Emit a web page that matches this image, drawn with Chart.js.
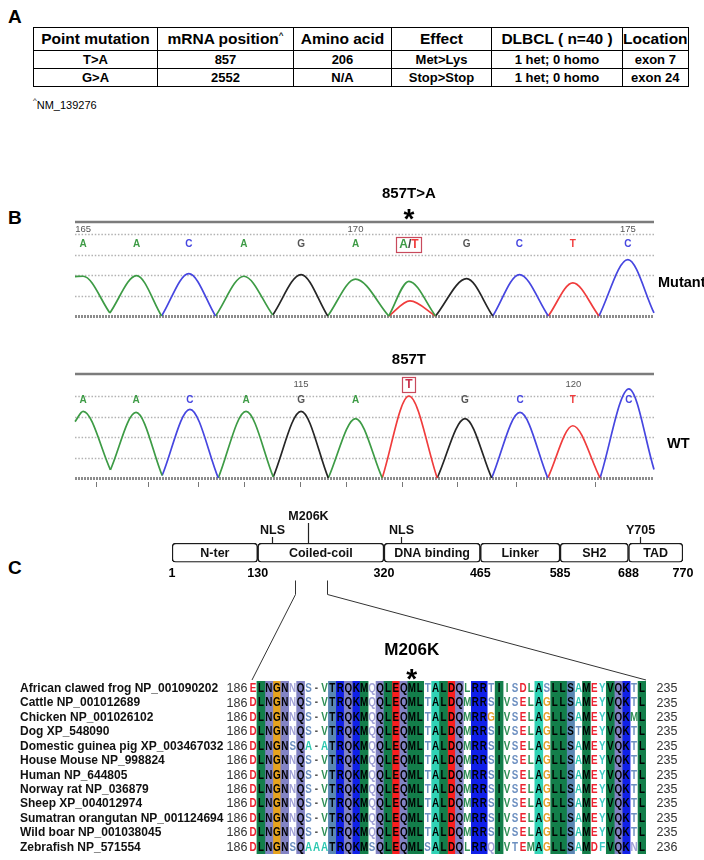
<!DOCTYPE html>
<html>
<head>
<meta charset="utf-8">
<script src="https://cdn.jsdelivr.net/npm/chart.js@4.4.1/dist/chart.umd.min.js"></script>
<style>
  body { margin: 0; background: #fff; font-family: "Liberation Sans", Arial, sans-serif; }
  #page { position: relative; width: 704px; height: 860px; overflow: hidden; }
  .panel { position: absolute; left: 8px; font-weight: bold; font-size: 19px; }
  #muts { position: absolute; left: 33px; top: 27px; border-collapse: collapse; table-layout: fixed; font-weight: bold; }
  #muts td { border: 1.5px solid #000; text-align: center; padding: 0; white-space: nowrap; font-size: 13px; height: 17px; }
  #muts tr.head td { font-size: 15.5px; height: 22px; }
  #muts sup, #note sup { font-size: 8px; vertical-align: 6px; }
  #note { position: absolute; left: 33px; top: 96px; font-size: 11px; }
  canvas { position: absolute; left: 0; }
</style>
</head>
<body>
<div id="page">
  <div class="panel" style="top:6px">A</div>
  <table id="muts"></table>
  <div id="note"><sup>^</sup>NM_139276</div>
  <div class="panel" style="top:207px">B</div>
  <canvas id="mutTrace" width="704" height="150" style="top:170px"></canvas>
  <canvas id="wtTrace" width="704" height="155" style="top:340px"></canvas>
  <div class="panel" style="top:557px">C</div>
  <canvas id="domains" width="704" height="95" style="top:495px"></canvas>
  <canvas id="align" width="704" height="285" style="top:575px"></canvas>
</div>
<script>
// === Panel A: mutation table ===
const HEADERS = ['Point mutation', 'mRNA position^', 'Amino acid', 'Effect', 'DLBCL ( n=40 )', 'Location'];
const COL_WIDTHS = [123, 135, 97, 99, 130, 64];
const POINT_MUTATION = ['T>A', 'G>A'];
const MRNA_POSITION = ['857', '2552'];
const AMINO_ACID = ['206', 'N/A'];
const EFFECT = ['Met>Lys', 'Stop>Stop'];
const DLBCL = ['1 het; 0 homo', '1 het; 0 homo'];
const LOCATION = ['exon 7', 'exon 24'];

// === Panel B: chromatogram peaks (x = base position, y = signal in grid units) ===
const MUT_CALLS = ['A', 'A', 'C', 'A', 'G', 'A', 'A/T', 'G', 'C', 'T', 'C'];
const MUT_PEAK_X = [165.0, 165.98, 166.94, 167.95, 169.0, 170.0, 170.98, 172.04, 173.01, 173.99, 175.0];
const MUT_PEAK_Y = [1.94, 1.97, 2.07, 1.94, 2.02, 1.80, 1.69, 1.82, 2.02, 1.62, 2.75];
const MUT_TROUGH_X = [164.85, 165.49, 166.44, 167.43, 168.48, 169.49, 170.61, 171.47, 172.52, 173.54, 174.47, 175.48];
const MUT_TROUGH_Y = [1.92, 0.15, 0, 0, 0.05, 0, 0, 0, 0, 0, 0, 0.15];
const MUT_MINOR_BASE = ['T'];
const MUT_MINOR_X = [[170.61, 171.0, 171.47]];
const MUT_MINOR_Y = [[0, 0.74, 0]];
const MUT_MARKS = [165, 170, 175];

const WT_CALLS = ['A', 'A', 'C', 'A', 'G', 'A', 'T', 'G', 'C', 'T', 'C'];
const WT_PEAK_X = [111.0, 111.97, 112.96, 113.99, 115.0, 116.0, 116.98, 118.01, 119.02, 119.99, 121.02];
const WT_PEAK_Y = [3.25, 3.2, 3.35, 3.25, 3.25, 2.9, 4.0, 2.9, 3.2, 2.55, 4.35];
const WT_TROUGH_X = [110.85, 111.5, 112.45, 113.48, 114.49, 115.5, 116.49, 117.5, 118.5, 119.53, 120.49, 121.48];
const WT_TROUGH_Y = [2.75, 0.40, 0.12, 0, 0.05, 0, 0, 0, 0, 0, 0, 0.42];
const WT_MARKS = [115, 120];
const WT_TICKS = [111.24, 112.19, 113.11, 113.95, 114.98, 115.83, 116.85, 117.86, 118.94, 120.39];

// === Panel C: STAT3 domains and alignment ===
const DOMAIN_NAMES = ['N-ter', 'Coiled-coil', 'DNA binding', 'Linker', 'SH2', 'TAD'];
const DOMAIN_BOUNDS = [1, 130, 320, 465, 585, 688, 770];
const SITE_NAMES = ['NLS', 'M206K', 'NLS', 'Y705'];
const SITE_POS = [152, 206, 346, 705];
const MUT_SITE = 'M206K';

const SPECIES = [
  'African clawed frog NP_001090202', 'Cattle NP_001012689', 'Chicken NP_001026102', 'Dog XP_548090',
  'Domestic guinea pig XP_003467032', 'House Mouse NP_998824', 'Human NP_644805', 'Norway rat NP_036879',
  'Sheep XP_004012974', 'Sumatran orangutan NP_001124694', 'Wild boar NP_001038045', 'Zebrafish NP_571554'
];
const SEQ_START = [186, 186, 186, 186, 186, 186, 186, 186, 186, 186, 186, 186];
const SEQ_END = [235, 235, 235, 235, 235, 235, 235, 235, 235, 235, 235, 236];
const SEQUENCES = [
  'ELNGNNQS-VTRQKMQQLEQMLTALDQLRRTIISDLASLLSAMEYVQKTL',
  'DLNGNNQS-VTRQKMQQLEQMLTALDQMRRSIVSELAGLLSAMEYVQKTL',
  'DLNGNNQS-VTRQKMQQLEQMLTALDQMRRGIVSELAGLLSAMEYVQKML',
  'DLNGNNQS-VTRQKMQQLEQMLTALDQMRRSIVSELAGLLSTMEYVQKTL',
  'DLNGNSQA-ATRQKMQQLEQMLTALDQMRRSIVSELAGLLSAMEYVQKTL',
  'DLNGNNQS-VTRQKMQQLEQMLTALDQMRRSIVSELAGLLSAMEYVQKTL',
  'DLNGNNQS-VTRQKMQQLEQMLTALDQMRRSIVSELAGLLSAMEYVQKTL',
  'DLNGNNQS-VTRQKMQQLEQMLTALDQMRRSIVSELAGLLSAMEYVQKTL',
  'DLNGNNQS-VTRQKMQQLEQMLTALDQMRRSIVSELAGLLSAMEYVQKTL',
  'DLNGNNQS-VTRQKMQQLEQMLTALDQMRRSIVSELAGLLSAMEYVQKTL',
  'DLNGNNQS-VTRQKMQQLEQMLTALDQMRRSIVSELAGLLSAMEYVQKTL',
  'DLNGNSQAAATRQKMSQLEQMLSALDQLRRQIVTEMAGLLSAMDFVQKNL'
];
const MARK_COLUMN = 20;

// styles
const FONT = '"Liberation Sans", Arial, sans-serif';
const TRACE_COLORS = { A: '#3d9b45', C: '#4646e0', G: '#262626', T: '#f03c3c' };
const CALL_COLORS = { A: '#3d9b45', C: '#4646e0', G: '#555555', T: '#f03c3c' };
const RESIDUE_CLASS = { L: 'hyd', I: 'hyd', V: 'hyd', M: 'hyd', N: 'amide', Q: 'amide', G: 'gly', R: 'basic', K: 'basic',
  S: 'hydroxyl', T: 'hydroxyl', D: 'acidic', E: 'acidic', A: 'small', Y: 'arom', F: 'arom' };
const CLASS_BG = { hyd: '#137e4a', amide: '#8283c4', gly: '#e7a31e', basic: '#1020e8', hydroxyl: '#5a87b3', acidic: '#fa1e1e', small: '#30d2b5' };
const CLASS_FG = { hyd: '#2f8f55', amide: '#a0a0d6', gly: '#e5a02a', basic: '#2030e0', hydroxyl: '#6c8fc0', acidic: '#ec2230', small: '#2cc8b0', arom: '#3ccac4' };
const DOMAIN_TOP = 495, ALIGN_TOP = 575;

Chart.defaults.font.family = FONT;
Chart.defaults.animation = false;

// --- table ---
const rows = [HEADERS].concat(POINT_MUTATION.map((p, i) =>
  [p, MRNA_POSITION[i], AMINO_ACID[i], EFFECT[i], DLBCL[i], LOCATION[i]]));
document.getElementById('muts').innerHTML = rows.map((r, i) =>
  '<tr' + (i === 0 ? ' class="head"' : '') + '>' + r.map((c, j) =>
    '<td style="width:' + COL_WIDTHS[j] + 'px">' +
    c.replace(/&/g, '&amp;').replace(/</g, '&lt;').replace(/>/g, '&gt;').replace('^', '<sup>^</sup>') + '</td>').join('') + '</tr>'
).join('');

// --- chromatograms ---
const traceDecor = {
  id: 'traceDecor',
  beforeDatasetsDraw(chart, args, o) {
    const { ctx, chartArea: ca, scales: { y } } = chart;
    ctx.save();
    for (let v = 0; v <= 4; v++) {
      const py = Math.round(y.getPixelForValue(v)) + 0.5;
      ctx.beginPath();
      ctx.setLineDash(v === 0 ? [2, 1] : [1.5, 1.8]);
      ctx.lineWidth = v === 0 ? 3 : 1.6;
      ctx.strokeStyle = v === 0 ? '#8c8c8c' : '#b2b2b2';
      ctx.moveTo(ca.left, py); ctx.lineTo(ca.right, py); ctx.stroke();
    }
    ctx.setLineDash([]);
    ctx.lineWidth = 2.5; ctx.strokeStyle = '#7c7c7c';
    const ty = ca.top - o.ruleGap;
    ctx.beginPath(); ctx.moveTo(ca.left, ty); ctx.lineTo(ca.right, ty); ctx.stroke();
    ctx.restore();
  },
  afterDatasetsDraw(chart, args, o) {
    const { ctx, chartArea: ca, scales: { x, y } } = chart;
    ctx.save();
    ctx.textAlign = 'center'; ctx.textBaseline = 'middle';
    // position numbers
    ctx.font = `9.5px ${FONT}`; ctx.fillStyle = '#555';
    o.marks.forEach(m => ctx.fillText(String(m), x.getPixelForValue(m), ca.top - o.numGap));
    // base calls
    ctx.font = `bold 10px ${FONT}`;
    o.calls.forEach((c, i) => {
      const px = x.getPixelForValue(o.peakX[i]);
      if (i === o.hiIndex) {
        const py = o.hiAtNumbers ? ca.top - o.numGap : y.getPixelForValue(o.letterLevel);
        const parts = c.split('/');
        const pieces = [];
        parts.forEach((p, k) => { if (k) pieces.push(['/', '#444']); pieces.push([p, CALL_COLORS[p]]); });
        ctx.font = `bold 12px ${FONT}`;
        const w = pieces.reduce((s, p) => s + ctx.measureText(p[0]).width, 0);
        let cx = px - w / 2;
        ctx.textAlign = 'left';
        pieces.forEach(p => { ctx.fillStyle = p[0] === 'T' && !parts[1] ? '#c8304a' : p[1]; ctx.fillText(p[0], cx, py + 0.5); cx += ctx.measureText(p[0]).width; });
        ctx.strokeStyle = '#c84a5c'; ctx.lineWidth = 1.2;
        ctx.strokeRect(Math.round(px - w / 2 - 3) + 0.5, Math.round(py - 7.5) + 0.5, Math.round(w + 6), 15);
        ctx.textAlign = 'center'; ctx.font = `bold 10px ${FONT}`;
        return;
      }
      ctx.fillStyle = CALL_COLORS[c];
      ctx.fillText(c, px, y.getPixelForValue(o.letterLevel));
    });
    // title and asterisk above the variant
    const vx = x.getPixelForValue(o.peakX[o.hiIndex]);
    ctx.fillStyle = '#000';
    ctx.font = `bold 15px ${FONT}`;
    ctx.fillText(o.title, vx, ca.top - o.titleGap);
    if (o.star) {
      ctx.font = `bold 28px ${FONT}`; ctx.textBaseline = 'alphabetic';
      ctx.fillText('*', vx, ca.top - o.starGap + 16);
      ctx.textBaseline = 'middle';
    }
    // side label
    ctx.font = `bold 14.5px ${FONT}`; ctx.textAlign = 'left';
    ctx.fillText(o.side, o.sideX, y.getPixelForValue(o.sideLevel));
    // ticks under the trace
    ctx.strokeStyle = '#777'; ctx.lineWidth = 1;
    (o.ticks || []).forEach(t => {
      const px = Math.round(x.getPixelForValue(t)) + 0.5;
      ctx.beginPath(); ctx.moveTo(px, ca.bottom + 4); ctx.lineTo(px, ca.bottom + 9); ctx.stroke();
    });
    ctx.restore();
  }
};

function traceChart(id, d, deco) {
  const hump = (xs, ys, base) => ({
    data: xs.map((v, k) => ({ x: v, y: ys[k] })),
    borderColor: TRACE_COLORS[base], clip: false
  });
  const datasets = d.calls.map((c, i) => hump(
    [d.troughX[i], d.peakX[i], d.troughX[i + 1]],
    [d.troughY[i], d.peakY[i], d.troughY[i + 1]], c[0]));
  (d.minorBase || []).forEach((b, i) => datasets.push(hump(d.minorX[i], d.minorY[i], b)));
  return new Chart(document.getElementById(id), {
    type: 'line',
    data: { datasets },
    options: {
      responsive: false,
      layout: { padding: deco.padding },
      elements: { point: { radius: 0 }, line: { borderWidth: 1.7, cubicInterpolationMode: 'monotone' } },
      scales: {
        x: { type: 'linear', display: false, min: d.troughX[0], max: d.troughX[d.troughX.length - 1] },
        y: { display: false, min: 0, max: 4 }
      },
      plugins: { legend: { display: false }, tooltip: { enabled: false }, traceDecor: deco }
    },
    plugins: [traceDecor]
  });
}

traceChart('mutTrace',
  { calls: MUT_CALLS, peakX: MUT_PEAK_X, peakY: MUT_PEAK_Y, troughX: MUT_TROUGH_X, troughY: MUT_TROUGH_Y,
    minorBase: MUT_MINOR_BASE, minorX: MUT_MINOR_X, minorY: MUT_MINOR_Y },
  { padding: { left: 75, right: 50, top: 64, bottom: 4 }, calls: MUT_CALLS, peakX: MUT_PEAK_X, marks: MUT_MARKS,
    hiIndex: 6, hiAtNumbers: false, letterLevel: 3.5, ruleGap: 12, numGap: 5, titleGap: 40, star: true, starGap: 22,
    title: '857T>A', side: 'Mutant', sideX: 658, sideLevel: 1.6 });

traceChart('wtTrace',
  { calls: WT_CALLS, peakX: WT_PEAK_X, peakY: WT_PEAK_Y, troughX: WT_TROUGH_X, troughY: WT_TROUGH_Y },
  { padding: { left: 75, right: 50, top: 56, bottom: 17 }, calls: WT_CALLS, peakX: WT_PEAK_X, marks: WT_MARKS,
    hiIndex: 6, hiAtNumbers: true, letterLevel: 3.8, ruleGap: 22, numGap: 12, titleGap: 36, star: false,
    title: '857T', side: 'WT', sideX: 667, sideLevel: 1.66, ticks: WT_TICKS });

// --- domain map ---
const domainDecor = {
  id: 'domainDecor',
  afterDatasetsDraw(chart) {
    const { ctx, chartArea: ca, scales: { x } } = chart;
    ctx.save();
    ctx.fillStyle = '#111'; ctx.textAlign = 'center'; ctx.textBaseline = 'middle';
    ctx.font = `bold 12.5px ${FONT}`;
    const cy = (ca.top + ca.bottom) / 2 + 0.5;
    DOMAIN_NAMES.forEach((n, i) =>
      ctx.fillText(n, x.getPixelForValue((DOMAIN_BOUNDS[i] + DOMAIN_BOUNDS[i + 1]) / 2), cy));
    ctx.strokeStyle = '#222'; ctx.lineWidth = 1.2; ctx.textBaseline = 'alphabetic';
    SITE_NAMES.forEach((n, i) => {
      const px = Math.round(x.getPixelForValue(SITE_POS[i])) + 0.5;
      const stem = n === MUT_SITE ? 20 : 6;
      ctx.beginPath(); ctx.moveTo(px, ca.top); ctx.lineTo(px, ca.top - stem); ctx.stroke();
      ctx.fillText(n, px, ca.top - stem - 3);
    });
    ctx.restore();
  }
};

const domainChart = new Chart(document.getElementById('domains'), {
  type: 'bar',
  data: {
    labels: ['STAT3'],
    datasets: [{
      data: DOMAIN_NAMES.map((n, i) => ({ x: [DOMAIN_BOUNDS[i], DOMAIN_BOUNDS[i + 1]], y: 'STAT3' })),
      backgroundColor: '#fff', borderColor: '#1c1c1c', borderWidth: 1.5, borderRadius: 4, borderSkipped: false,
      barPercentage: 1, categoryPercentage: 1
    }]
  },
  options: {
    indexAxis: 'y',
    responsive: false,
    layout: { padding: { left: 172, right: 21, top: 48, bottom: 8 } },
    scales: {
      x: {
        type: 'linear', min: DOMAIN_BOUNDS[0], max: DOMAIN_BOUNDS[DOMAIN_BOUNDS.length - 1],
        afterBuildTicks: s => { s.ticks = DOMAIN_BOUNDS.map(v => ({ value: v })); },
        grid: { display: false, drawTicks: false }, border: { display: false },
        ticks: { autoSkip: false, maxRotation: 0, padding: 4, color: '#000', font: { size: 12.5, weight: 'bold' } }
      },
      y: { display: false }
    },
    plugins: { legend: { display: false }, tooltip: { enabled: false } }
  },
  plugins: [domainDecor]
});

// --- alignment ---
const nCols = SEQUENCES[0].length;
const columns = Array.from({ length: nCols }, (_, j) => String(j));
const conserved = columns.map((_, j) => {
  const c = SEQUENCES[0][j];
  return c !== '-' && SEQUENCES.every(s => s[j] === c);
});
const bgDatasets = Object.keys(CLASS_BG).map(cls => ({
  data: columns.map((_, j) =>
    conserved[j] && RESIDUE_CLASS[SEQUENCES[0][j]] === cls ? [0, SPECIES.length] : null),
  backgroundColor: CLASS_BG[cls]
}));

const alignDecor = {
  id: 'alignDecor',
  afterDatasetsDraw(chart) {
    const { ctx, chartArea: ca, scales: { x, y } } = chart;
    ctx.save();
    ctx.textBaseline = 'middle';
    SPECIES.forEach((name, r) => {
      const py = y.getPixelForValue(r + 0.5) + 0.5;
      ctx.font = `bold 12px ${FONT}`; ctx.fillStyle = '#111'; ctx.textAlign = 'left';
      ctx.fillText(name, 20, py);
      ctx.font = `12.5px ${FONT}`; ctx.fillStyle = '#333'; ctx.textAlign = 'center';
      ctx.fillText(String(SEQ_START[r]), 237, py);
      ctx.fillText(String(SEQ_END[r]), 667, py);
      ctx.font = `bold 12px ${FONT}`;
      [...SEQUENCES[r]].forEach((aa, j) => {
        ctx.fillStyle = conserved[j] ? '#000' : (aa === '-' ? '#555' : CLASS_FG[RESIDUE_CLASS[aa]]);
        ctx.save();
        ctx.translate(x.getPixelForValue(j), py);
        ctx.scale(0.82, 1);
        ctx.fillText(aa, 0, 0);
        ctx.restore();
      });
    });
    // mutation label
    const mx = x.getPixelForValue(MARK_COLUMN);
    ctx.fillStyle = '#000'; ctx.font = `bold 17px ${FONT}`;
    ctx.fillText(MUT_SITE, mx, ca.top - 31);
    ctx.font = `bold 28px ${FONT}`; ctx.textBaseline = 'alphabetic';
    ctx.fillText('*', mx, ca.top + 7);
    // zoom lines from the domain map
    const dx = domainChart.scales.x;
    const y0 = DOMAIN_TOP + domainChart.chartArea.bottom + 18 - ALIGN_TOP;
    const y1 = y0 + 14;
    ctx.strokeStyle = '#333'; ctx.lineWidth = 1;
    [[SEQ_START[0], x.getPixelForValue(0) - 1], [SEQ_END[0], ca.right]].forEach(([res, ex]) => {
      const px = Math.round(dx.getPixelForValue(res)) + 0.5;
      ctx.beginPath(); ctx.moveTo(px, y0); ctx.lineTo(px, y1); ctx.lineTo(ex, ca.top - 1); ctx.stroke();
    });
    ctx.restore();
  }
};

new Chart(document.getElementById('align'), {
  type: 'bar',
  data: { labels: columns, datasets: bgDatasets },
  options: {
    responsive: false,
    layout: { padding: { left: 249, right: 58, top: 106, bottom: 6 } },
    datasets: { bar: { grouped: false, barPercentage: 1, categoryPercentage: 1, borderWidth: 0 } },
    scales: {
      x: { display: false },
      y: { display: false, min: 0, max: SPECIES.length, reverse: true }
    },
    plugins: { legend: { display: false }, tooltip: { enabled: false } }
  },
  plugins: [alignDecor]
});
</script>
</body>
</html>
